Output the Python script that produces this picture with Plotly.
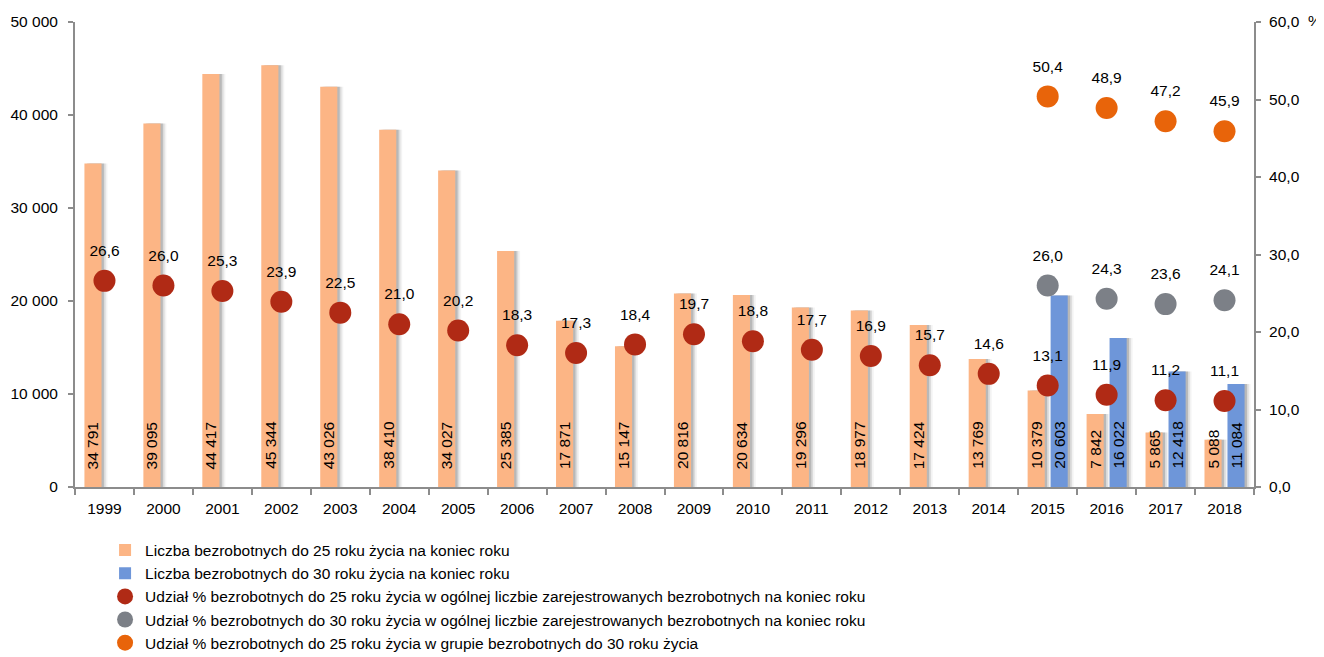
import plotly.graph_objects as go

years = [str(y) for y in range(1999, 2019)]
under25 = [34791, 39095, 44417, 45344, 43026, 38410, 34027, 25385, 17871, 15147,
           20816, 20634, 19296, 18977, 17424, 13769, 10379, 7842, 5865, 5088]
years30 = ["2015", "2016", "2017", "2018"]
under30 = [20603, 16022, 12418, 11084]
share25 = [26.6, 26.0, 25.3, 23.9, 22.5, 21.0, 20.2, 18.3, 17.3, 18.4,
           19.7, 18.8, 17.7, 16.9, 15.7, 14.6, 13.1, 11.9, 11.2, 11.1]
share30 = [26.0, 24.3, 23.6, 24.1]
share25in30 = [50.4, 48.9, 47.2, 45.9]

names = [
    "Liczba bezrobotnych do 25 roku życia na koniec roku",
    "Liczba bezrobotnych do 30 roku życia na koniec roku",
    "Udział % bezrobotnych do 25 roku życia w ogólnej liczbie zarejestrowanych bezrobotnych na koniec roku",
    "Udział % bezrobotnych do 30 roku życia w ogólnej liczbie zarejestrowanych bezrobotnych na koniec roku",
    "Udział % bezrobotnych do 25 roku życia w grupie bezrobotnych do 30 roku życia",
]

FONT = "Liberation Sans, Arial, sans-serif"
FS = 15.5
C_OR = "#FCB585"
C_BL = "#6E96D9"
C_RED = "#B02A15"
C_GRAY = "#7C8087"
C_ORD = "#E8640A"
AX = "#8C8C8C"

def fmt_int(v):
    return f"{v:,}".replace(",", " ")

def fmt_pct(v):
    return f"{v:.1f}".replace(".", ",")

W = 0.29
OFF25, OFF30 = -0.34, 0.05
fig = go.Figure()

# soft shadows behind the bars
for xs, ys, off in [(years, under25, OFF25), (years30, under30, OFF30)]:
    for d, a in [(0.04, 0.25), (0.07, 0.14), (0.10, 0.07)]:
        fig.add_trace(go.Bar(x=xs, y=ys, offset=off + d, width=W,
                             marker=dict(color=f"rgba(80,80,80,{a})", line_width=0),
                             showlegend=False, hoverinfo="skip"))

fig.add_trace(go.Bar(x=years, y=under25, offset=OFF25, width=W, name=names[0],
                     marker=dict(color=C_OR, line_width=0)))
fig.add_trace(go.Bar(x=years30, y=under30, offset=OFF30, width=W, name=names[1],
                     marker=dict(color=C_BL, line_width=0)))

for xs, ys, col, nm in [(years, share25, C_RED, names[2]),
                        (years30, share30, C_GRAY, names[3]),
                        (years30, share25in30, C_ORD, names[4])]:
    fig.add_trace(go.Scatter(x=xs, y=ys, yaxis="y2", mode="markers", name=nm,
                             marker=dict(color=col, size=22), cliponaxis=False))
    # value labels placed above a larger invisible marker to get the gap
    fig.add_trace(go.Scatter(x=xs, y=ys, yaxis="y2", mode="markers+text",
                             marker=dict(color="rgba(0,0,0,0)", size=32),
                             text=[fmt_pct(v) for v in ys], textposition="top center",
                             textfont=dict(family=FONT, size=FS, color="black"),
                             showlegend=False, hoverinfo="skip", cliponaxis=False))

# vertical value labels of the bars, sitting a little above the axis
annotations = []
for xs, ys, off in [(years, under25, OFF25), (years30, under30, OFF30)]:
    for x, v in zip(xs, ys):
        idx = years.index(x)  # category index on the x axis
        annotations.append(dict(x=idx + off + W / 2, y=0, xref="x", yref="paper",
                                text=fmt_int(v), textangle=-90, showarrow=False,
                                xanchor="center", yanchor="bottom", yshift=16,
                                font=dict(family=FONT, size=FS, color="black")))
annotations.append(dict(text="%", xref="paper", yref="paper", x=1, y=1, xshift=61, yshift=2,
                        showarrow=False, xanchor="center", yanchor="middle",
                        font=dict(family=FONT, size=FS)))

fig.update_layout(
    width=1316, height=649,
    barmode="overlay",
    separators=", ",
    plot_bgcolor="white", paper_bgcolor="white",
    font=dict(family=FONT, size=FS, color="black"),
    margin=dict(l=67, r=70, t=14, b=170, autoexpand=False),
    xaxis=dict(type="category", tickson="boundaries", ticks="outside", ticklen=6,
               showline=True, linecolor=AX, linewidth=2, tickcolor=AX, tickwidth=1.5,
               showgrid=False, range=[-0.5, 19.5], automargin=False,
               ticklabelstandoff=6),
    yaxis=dict(range=[0, 50000], dtick=10000, tickformat=",d", ticks="outside", ticklen=5,
               showline=True, linecolor=AX, linewidth=2, tickcolor=AX, tickwidth=1.5,
               showgrid=False, zeroline=False, automargin=False, ticklabelstandoff=7),
    yaxis2=dict(range=[0, 60], dtick=10, tickformat=".1f", overlaying="y", side="right",
                ticks="outside", ticklen=5, showline=True, linecolor=AX,
                linewidth=2, tickcolor=AX, tickwidth=1.5, showgrid=False, zeroline=False,
                automargin=False, ticklabelstandoff=5),
    legend=dict(x=0.0255, y=-0.1, xanchor="left", yanchor="top", orientation="v",
                font=dict(family=FONT, size=FS), tracegroupgap=0, itemwidth=30,
                bgcolor="rgba(0,0,0,0)"),
    annotations=annotations,
)

fig.write_html("out.html")
